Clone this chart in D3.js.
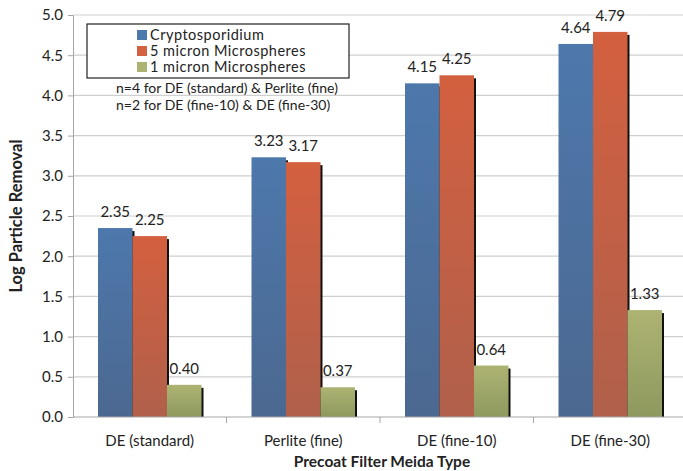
<!DOCTYPE html>
<html>
<head>
<meta charset="utf-8">
<script src="https://cdn.jsdelivr.net/npm/d3@7"></script>
<style>
  body { margin: 0; background: #fff; }
  svg { display: block; font-family: Lato, 'Open Sans', sans-serif; }
</style>
</head>
<body>
<div id="chart"></div>
<script>
// Data
const categories = ['DE (standard)', 'Perlite (fine)', 'DE (fine-10)', 'DE (fine-30)'];
const series = ['Cryptosporidium', '5 micron Microspheres', '1 micron Microspheres'];
const cryptoValues = [2.35, 3.23, 4.15, 4.64];
const micron5Values = [2.25, 3.17, 4.25, 4.79];
const micron1Values = [0.40, 0.37, 0.64, 1.33];
const yTicks = [0, 0.5, 1, 1.5, 2, 2.5, 3, 3.5, 4, 4.5, 5];
const notes = ['n=4 for DE (standard) & Perlite (fine)', 'n=2 for DE (fine-10) & DE (fine-30)'];

const allValues = [cryptoValues, micron5Values, micron1Values];
const rows = categories.map((c, i) => ({
  cat: c,
  vals: series.map((s, j) => ({ s, j, v: allValues[j][i] })),
}));

const width = 683;
const height = 471;
const margin = { t: 15, r: -4, b: 54, l: 73 };

// colours: [top, bottom]
const colors = [
  ['#4d78ac', '#4b6890'],
  ['#d3603f', '#b0604b'],
  ['#adb372', '#8e995f'],
];

const svg = d3
  .select('#chart')
  .append('svg')
  .attr('width', width)
  .attr('height', height);

const defs = svg.append('defs');
colors.forEach((c, i) => {
  const g = defs
    .append('linearGradient')
    .attr('id', `grad${i}`)
    .attr('x1', 0).attr('y1', 0).attr('x2', 0).attr('y2', 1);
  g.append('stop').attr('offset', '0%').attr('stop-color', c[0]);
  g.append('stop').attr('offset', '100%').attr('stop-color', c[1]);
});

const y = d3.scaleLinear().domain([0, 5]).range([height - margin.b, margin.t]);
const x0 = d3
  .scaleBand()
  .domain(categories)
  .range([margin.l, width - margin.r])
  .padding(0);
const x1 = d3
  .scaleBand()
  .domain(series)
  .range([25, x0.bandwidth() - 25])
  .padding(0);

// gridlines
svg
  .append('g')
  .selectAll('line')
  .data(yTicks.slice(1))
  .join('line')
  .attr('x1', margin.l)
  .attr('x2', width)
  .attr('y1', (d) => y(d))
  .attr('y2', (d) => y(d))
  .attr('stroke', '#cfcfcf')
  .attr('stroke-width', 1.2);

// y axis
const yAxis = svg
  .append('g')
  .attr('transform', `translate(${margin.l},0)`)
  .call(d3.axisLeft(y).tickValues(yTicks).tickFormat(d3.format('.1f')).tickSize(5).tickPadding(5));
yAxis.select('.domain').attr('stroke', '#a6a6a6');
yAxis.selectAll('.tick line').attr('stroke', '#a6a6a6');
yAxis.selectAll('text').attr('font-size', 15).attr('fill', '#222').attr('font-family', 'Lato');

// bars
const groups = svg
  .append('g')
  .selectAll('g')
  .data(rows)
  .join('g')
  .attr('transform', (d) => `translate(${x0(d.cat)},0)`);

// shadow on right side
groups
  .selectAll('rect.shadow')
  .data((d) => d.vals)
  .join('rect')
  .attr('class', 'shadow')
  .attr('x', (d) => x1(d.s) + x1.bandwidth() - 0.5)
  .attr('y', (d) => y(d.v) + 3)
  .attr('width', 2.5)
  .attr('height', (d) => y(0) - y(d.v) - 3)
  .attr('fill', '#111');

groups
  .selectAll('rect.bar')
  .data((d) => d.vals)
  .join('rect')
  .attr('class', 'bar')
  .attr('x', (d) => x1(d.s))
  .attr('y', (d) => y(d.v))
  .attr('width', x1.bandwidth())
  .attr('height', (d) => y(0) - y(d.v))
  .attr('fill', (d) => `url(#grad${d.j})`);

// value labels
groups
  .selectAll('text.val')
  .data((d) => d.vals)
  .join('text')
  .attr('class', 'val')
  .attr('x', (d) => x1(d.s) + x1.bandwidth() / 2)
  .attr('y', (d) => y(d.v) - 11)
  .attr('text-anchor', 'middle')
  .attr('font-size', 15)
  .attr('fill', '#222')
  .text((d) => d3.format('.2f')(d.v));

// x axis
const xAxisY = y(0);
svg
  .append('line')
  .attr('x1', margin.l)
  .attr('x2', width)
  .attr('y1', xAxisY)
  .attr('y2', xAxisY)
  .attr('stroke', '#a6a6a6');
svg
  .append('g')
  .selectAll('line')
  .data(categories)
  .join('line')
  .attr('x1', (d) => x0(d) + x0.bandwidth())
  .attr('x2', (d) => x0(d) + x0.bandwidth())
  .attr('y1', xAxisY)
  .attr('y2', xAxisY + 6)
  .attr('stroke', '#a6a6a6');
svg
  .append('g')
  .selectAll('text')
  .data(categories)
  .join('text')
  .attr('x', (d) => x0(d) + x0.bandwidth() / 2)
  .attr('y', 446)
  .attr('text-anchor', 'middle')
  .attr('font-size', 15)
  .attr('fill', '#222')
  .text((d) => d);

// axis titles
svg
  .append('text')
  .attr('x', 382)
  .attr('y', 467)
  .attr('text-anchor', 'middle')
  .attr('font-size', 15.5)
  .attr('font-weight', 'bold')
  .attr('fill', '#222')
  .text('Precoat Filter Meida Type');

svg
  .append('text')
  .attr('transform', 'translate(22,216) rotate(-90)')
  .attr('text-anchor', 'middle')
  .attr('font-size', 16.5)
  .attr('font-weight', 'bold')
  .attr('fill', '#222')
  .text('Log Particle Removal');

// legend
const legend = svg.append('g');
legend
  .append('rect')
  .attr('x', 87)
  .attr('y', 24)
  .attr('width', 262)
  .attr('height', 54)
  .attr('fill', '#fff')
  .attr('stroke', '#222')
  .attr('stroke-width', 1.2);
series.forEach((s, i) => {
  legend
    .append('rect')
    .attr('x', 137)
    .attr('y', 30 + i * 16)
    .attr('width', 10)
    .attr('height', 10)
    .attr('fill', colors[i][0]);
  legend
    .append('text')
    .attr('x', 150)
    .attr('y', 40 + i * 16)
    .attr('font-size', 14.5)
    .attr('letter-spacing', 0.5)
    .attr('fill', '#222')
    .text(s);
});

// notes
notes.forEach((n, i) => {
  svg
    .append('text')
    .attr('x', 116)
    .attr('y', 93 + i * 16.5)
    .attr('font-size', 14)
    .attr('fill', '#222')
    .text(n);
});
</script>
</body>
</html>
